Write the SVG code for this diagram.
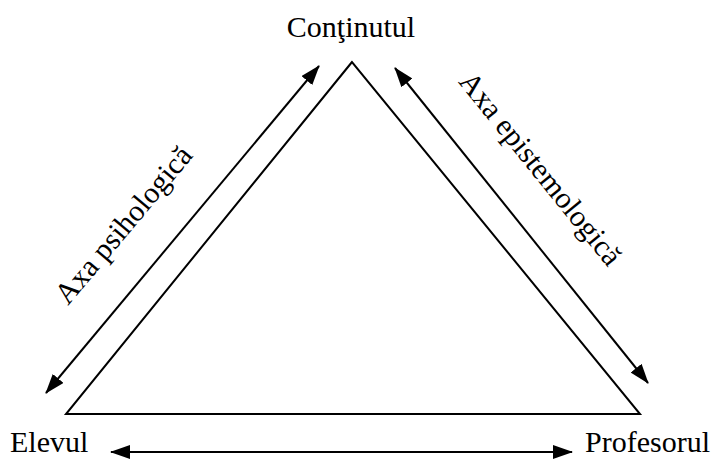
<svg xmlns="http://www.w3.org/2000/svg" width="718" height="459" viewBox="0 0 718 459">
<style>
text{font-family:"Liberation Serif","Times New Roman",serif;font-size:30px;fill:#000}
.ln{stroke:#000;stroke-width:2;fill:none}
</style>
<defs>
<marker id="ah" viewBox="0 0 20 14" refX="19" refY="7" markerWidth="20" markerHeight="14" markerUnits="userSpaceOnUse" orient="auto-start-reverse">
<path d="M0,0 L20,7 L0,14 Z" fill="#000"/>
</marker>
</defs>
<rect width="718" height="459" fill="#fff"/>
<g id="triangle">
<path class="ln" d="M352,62 L66,414 L640,414 Z" stroke-linejoin="miter"/>
</g>
<g id="continutul"><text x="351" y="37" text-anchor="middle">Conţinutul</text></g>
<g id="elevul"><text x="10" y="452">Elevul</text></g>
<g id="profesorul"><text x="585" y="452">Profesorul</text></g>
<g id="connectors">
<line class="ln" x1="46" y1="393" x2="319" y2="66" marker-start="url(#ah)" marker-end="url(#ah)"/>
<line class="ln" x1="395" y1="68" x2="648" y2="383" marker-start="url(#ah)" marker-end="url(#ah)"/>
<line class="ln" x1="111" y1="452" x2="572" y2="452" marker-start="url(#ah)" marker-end="url(#ah)"/>
</g>
<g id="label-psihologica"><text transform="translate(131,231) rotate(-50)" text-anchor="middle">Axa psihologică</text></g>
<g id="label-epistemologica"><text transform="translate(533,175) rotate(51)" text-anchor="middle">Axa epistemologică</text></g>
</svg>
